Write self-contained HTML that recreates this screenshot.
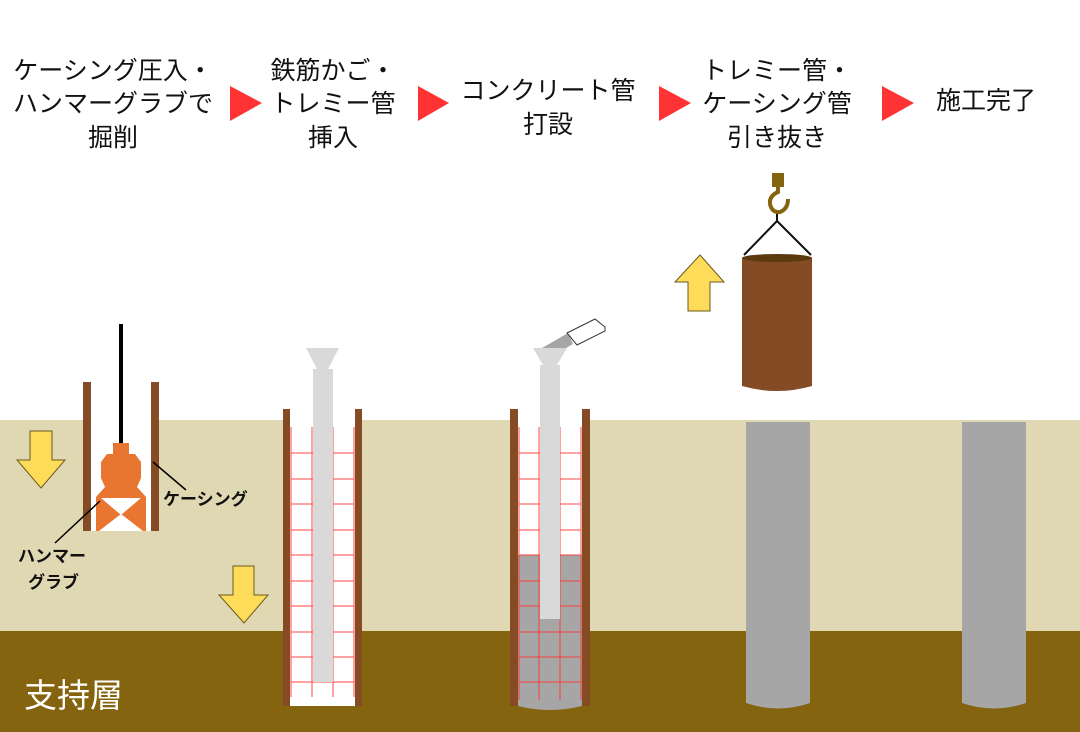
<!DOCTYPE html>
<html><head><meta charset="utf-8"><style>
html,body{margin:0;padding:0;background:#fff}
svg{display:block}
text{font-family:"Liberation Sans","Noto Sans CJK JP",sans-serif}
</style></head><body>
<svg width="1080" height="732" viewBox="0 0 1080 732" xmlns="http://www.w3.org/2000/svg">
<rect x="0" y="0" width="1080" height="732" fill="#fff"/>
<rect x="0" y="420" width="1080" height="211" fill="#E0D8B2"/>
<rect x="0" y="631" width="1080" height="101" fill="#85640F"/>

<g font-size="25" fill="#111" text-anchor="middle">
<text x="113" y="79">ケーシング圧入・</text>
<text x="113" y="112">ハンマーグラブで</text>
<text x="113" y="146">掘削</text>
<text x="333" y="79">鉄筋かご・</text>
<text x="333" y="112">トレミー管</text>
<text x="333" y="146">挿入</text>
<text x="548" y="99">コンクリート管</text>
<text x="548" y="133">打設</text>
<text x="777" y="79">トレミー管・</text>
<text x="777" y="112">ケーシング管</text>
<text x="777" y="146">引き抜き</text>
<text x="986" y="109">施工完了</text>
</g>
<g fill="#FF3333">
<polygon points="230,86 262,103 230,121"/>
<polygon points="418,86 449,103 418,121"/>
<polygon points="659,86 691,103 659,121"/>
<polygon points="882,86 914,103 882,121"/>
</g>

<!-- Stage 1 -->
<rect x="91" y="420" width="60" height="111" fill="#fff"/>
<rect x="83" y="382" width="8" height="149" fill="#844B24"/>
<rect x="151" y="382" width="8" height="149" fill="#844B24"/>
<rect x="119" y="324" width="4" height="120" fill="#000"/>
<rect x="113" y="443" width="16" height="11" fill="#E87530"/>
<path d="M107,454 L135,454 L141,462 L141,478 L137,487 L146,497 L146,531 L96,531 L96,497 L105,487 L101,478 L101,462 Z" fill="#E87530"/>
<polygon points="101,498 141,498 121,515" fill="#fff"/>
<polygon points="99,531 143,531 121,514" fill="#fff"/>
<line x1="153" y1="462" x2="186" y2="490" stroke="#000" stroke-width="1.5"/>
<line x1="100" y1="501" x2="55" y2="543" stroke="#000" stroke-width="1.5"/>
<g font-size="17" font-weight="bold" fill="#111">
<text x="163" y="505">ケーシング</text>
<text x="18" y="562">ハンマー</text>
<text x="28" y="588">グラブ</text>
</g>
<polygon points="30,431 52,431 52,460 65,460 41,488 17,460 30,460" fill="#FEDB58" stroke="#6b5a20" stroke-width="1"/>
<polygon points="233,566 254,566 254,595 268,595 244,623 219,595 233,595" fill="#FEDB58" stroke="#6b5a20" stroke-width="1"/>
<text x="24" y="707" font-size="33" fill="#fff">支持層</text>

<!-- Stage 2 -->
<rect x="290" y="420" width="65" height="286" fill="#fff"/>
<rect x="283" y="409" width="7" height="297" fill="#844B24"/>
<rect x="355" y="409" width="7" height="297" fill="#844B24"/>
<g stroke="#F33" stroke-width="1" opacity="0.9">
<line x1="291" y1="427" x2="291" y2="697"/><line x1="312" y1="427" x2="312" y2="697"/>
<line x1="333" y1="427" x2="333" y2="697"/><line x1="354" y1="427" x2="354" y2="697"/>
<line x1="291" y1="453" x2="354" y2="453"/><line x1="291" y1="479" x2="354" y2="479"/>
<line x1="291" y1="504" x2="354" y2="504"/><line x1="291" y1="530" x2="354" y2="530"/>
<line x1="291" y1="555" x2="354" y2="555"/><line x1="291" y1="581" x2="354" y2="581"/>
<line x1="291" y1="606" x2="354" y2="606"/><line x1="291" y1="632" x2="354" y2="632"/>
<line x1="291" y1="657" x2="354" y2="657"/><line x1="291" y1="682" x2="354" y2="682"/>
</g>
<rect x="313" y="369" width="20" height="313" fill="#D9D9D9"/>
<polygon points="306,348 339,348 328,369 317,369" fill="#D9D9D9"/>

<!-- Stage 3 -->
<rect x="518" y="420" width="64" height="286" fill="#fff"/>
<path d="M518,555 L582,555 L582,706 Q550,714 518,706 Z" fill="#A6A6A6"/>
<rect x="510" y="409" width="8" height="297" fill="#844B24"/>
<rect x="582" y="409" width="8" height="297" fill="#844B24"/>
<g stroke="#F33" stroke-width="1" opacity="0.9">
<line x1="519" y1="427" x2="519" y2="700"/><line x1="539" y1="427" x2="539" y2="700"/>
<line x1="560" y1="427" x2="560" y2="700"/><line x1="581" y1="427" x2="581" y2="700"/>
<line x1="519" y1="453" x2="581" y2="453"/><line x1="519" y1="479" x2="581" y2="479"/>
<line x1="519" y1="504" x2="581" y2="504"/><line x1="519" y1="530" x2="581" y2="530"/>
<line x1="519" y1="555" x2="581" y2="555"/><line x1="519" y1="581" x2="581" y2="581"/>
<line x1="519" y1="606" x2="581" y2="606"/><line x1="519" y1="632" x2="581" y2="632"/>
<line x1="519" y1="657" x2="581" y2="657"/><line x1="519" y1="682" x2="581" y2="682"/>
</g>
<rect x="540" y="365" width="20" height="254" fill="#D9D9D9"/>
<polygon points="533,348 567,348 557,365 543,365" fill="#D9D9D9"/>
<polygon points="542,348 568,333 573,344 566,348" fill="#A6A6A6"/>
<polygon points="567,333 595,319 605,327 605,331 577,345" fill="#fff" stroke="#333" stroke-width="1"/>

<!-- Stage 4 -->
<path d="M746,422 L810,422 L810,703 Q778,714 746,703 Z" fill="#A6A6A6"/>
<path d="M742,258 L812,258 L812,386 Q777,396 742,386 Z" fill="#844B24"/>
<ellipse cx="777" cy="258" rx="35" ry="4" fill="#5A3A0E"/>
<line x1="777" y1="221" x2="744" y2="255" stroke="#111" stroke-width="2"/>
<line x1="777" y1="221" x2="811" y2="255" stroke="#111" stroke-width="2"/>
<line x1="777" y1="212" x2="777" y2="222" stroke="#111" stroke-width="2"/>
<rect x="772" y="173" width="12" height="14" fill="#85640F"/>
<path d="M778,186 L778,192 Q769,196 770,204 Q772,213 780,212 Q788,209 788,199" fill="none" stroke="#85640F" stroke-width="4"/>
<polygon points="700,255 724,282 710,282 710,311 688,311 688,282 675,282" fill="#FEDB58" stroke="#6b5a20" stroke-width="1"/>

<!-- Stage 5 -->
<path d="M962,422 L1026,422 L1026,703 Q994,714 962,703 Z" fill="#A6A6A6"/>
</svg>
</body></html>
